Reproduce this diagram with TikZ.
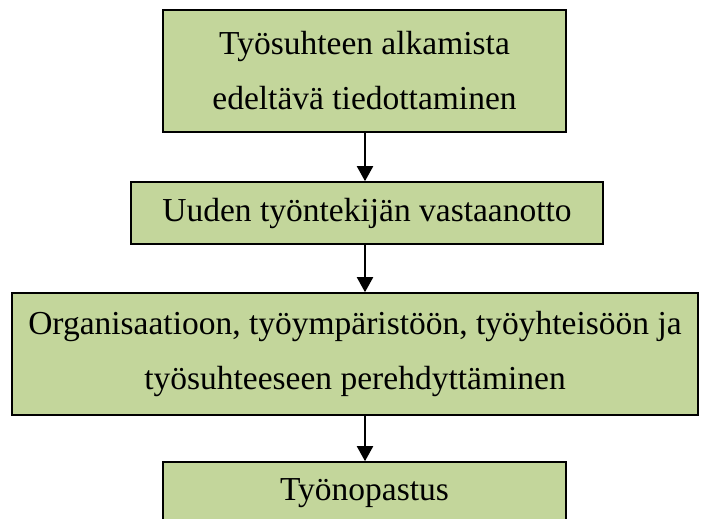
\documentclass[tikz,border=0pt]{standalone}
\usepackage{fontspec}
\setmainfont{Liberation Serif}
\usetikzlibrary{arrows.meta}
\definecolor{boxgreen}{HTML}{C3D69B}
\begin{document}
\begin{tikzpicture}[x=1pt,y=-1pt,
  stepbox/.style={draw=black, line width=1.6pt, fill=boxgreen, inner sep=0pt,
    align=center, font=\fontsize{33.5}{55}\selectfont, text=black},
  flow/.style={line width=2pt, -{Triangle[width=16pt,length=15pt]}}]
\useasboundingbox (0,0) rectangle (709,519);
\clip (0,0) rectangle (709,519);
\fill[white] (0,0) rectangle (709,519);
\node[stepbox, minimum width=403pt, minimum height=122pt] (b1) at (364.5,71)
  {Työsuhteen alkamista\\edeltävä tiedottaminen};
\node[stepbox, minimum width=472pt, minimum height=62pt] (b2) at (367,213)
  {Uuden työntekijän vastaanotto};
\node[stepbox, minimum width=686pt, minimum height=122pt] (b3) at (355,354)
  {Organisaatioon, työympäristöön, työyhteisöön ja\\työsuhteeseen perehdyttäminen};
\node[stepbox, minimum width=403pt, minimum height=62pt] (b4) at (364.5,493)
  {Työnopastus};
\coordinate (ax) at (365,0);
\draw[flow] (ax |- b1.south) -- (ax |- b2.north);
\draw[flow] (ax |- b2.south) -- (ax |- b3.north);
\draw[flow] (ax |- b3.south) -- (ax |- b4.north);
\end{tikzpicture}
\end{document}
